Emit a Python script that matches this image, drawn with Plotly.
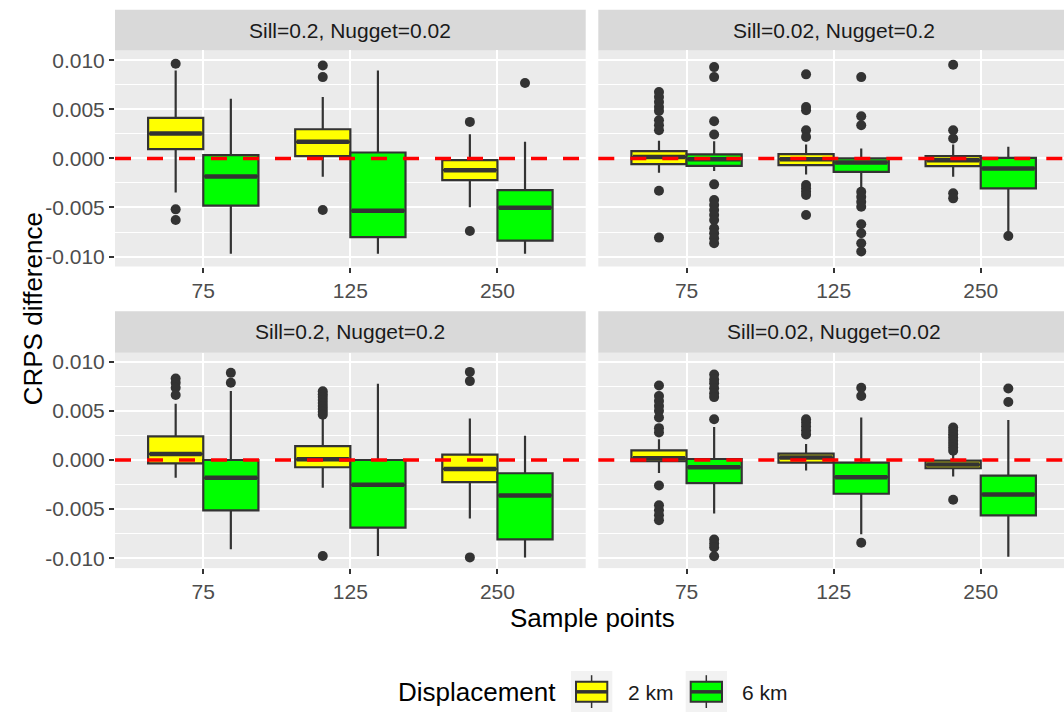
import plotly.graph_objects as go

# ---------------- data ----------------
categories = ["75", "125", "250"]
panel_titles = ["Sill=0.2, Nugget=0.02", "Sill=0.02, Nugget=0.2",
                "Sill=0.2, Nugget=0.2", "Sill=0.02, Nugget=0.02"]
groups = ["2 km", "6 km"]
group_colors = ["#FFFF00", "#00FF00"]

# per panel (A, B, C, D) -> per category (75, 125, 250)
lower_2km = [[-0.00346, -0.00186, -0.00498],
             [-0.00146, -0.00163, -0.00186],
             [-0.00182, -0.00283, -0.00597],
             [-0.00132, -0.00108, -0.00169]]
q1_2km = [[0.00095, 0.00024, -0.00220],
          [-0.00058, -0.00068, -0.00078],
          [-0.00034, -0.00074, -0.00226],
          [-0.00013, -0.00027, -0.00084]]
median_2km = [[0.00254, 0.00170, -0.00119],
              [0.00014, -0.00007, -0.00017],
              [0.00061, 0.00007, -0.00091],
              [0.00017, 0.00024, -0.00047]]
q3_2km = [[0.00414, 0.00298, -0.00017],
          [0.00075, 0.00044, 0.00024],
          [0.00240, 0.00142, 0.00054],
          [0.00098, 0.00064, -0.00007]]
upper_2km = [[0.00898, 0.00627, 0.00247],
             [0.00180, 0.00142, 0.00142],
             [0.00573, 0.00425, 0.00422],
             [0.00212, 0.00162, 0.00080]]
outliers_2km = [
    [[0.00966, -0.00519, -0.00627], [0.00949, 0.00830, -0.00525], [0.00373, -0.00739]],
    [[0.00678, 0.00627, 0.00576, 0.00525, 0.00485, 0.00390, 0.00339, 0.00288, -0.00329, -0.00807],
     [0.00858, 0.00525, 0.00492, 0.00288, 0.00220, -0.00271, -0.00305, -0.00340, -0.00373, -0.00576],
     [0.00956, 0.00288, 0.00203, -0.00356, -0.00407]],
    [[0.00830, 0.00786, 0.00735, 0.00661],
     [0.00700, 0.00670, 0.00640, 0.00610, 0.00580, 0.00550, 0.00520, 0.00490, 0.00460, -0.00978],
     [0.00897, 0.00803, -0.00992]],
    [[0.00759, 0.00651, 0.00600, 0.00550, 0.00500, 0.00432, 0.00324, 0.00280,
      -0.00260, -0.00462, -0.00513, -0.00563, -0.00614],
     [0.00415, 0.00380, 0.00340, 0.00300, 0.00260],
     [0.00330, 0.00297, 0.00263, 0.00230, 0.00196, 0.00162, 0.00128, 0.00094, -0.00405]],
]

lower_6km = [[-0.00973, -0.00973, -0.00973],
             [-0.00129, -0.00305, -0.00760],
             [-0.00910, -0.00978, -0.00992],
             [-0.00546, -0.00755, -0.00985]]
q1_6km = [[-0.00481, -0.00803, -0.00837],
          [-0.00075, -0.00136, -0.00305],
          [-0.00513, -0.00688, -0.00809],
          [-0.00236, -0.00344, -0.00563]]
median_6km = [[-0.00183, -0.00532, -0.00502],
              [-0.00007, -0.00041, -0.00102],
              [-0.00182, -0.00253, -0.00361],
              [-0.00074, -0.00175, -0.00351]]
q3_6km = [[0.00034, 0.00061, -0.00322],
          [0.00041, 0.00000, 0.00007],
          [0.00000, 0.00000, -0.00135],
          [0.00010, -0.00027, -0.00159]]
upper_6km = [[0.00610, 0.00898, 0.00170],
             [0.00176, 0.00102, 0.00119],
             [0.00702, 0.00776, 0.00246],
             [0.00337, 0.00432, 0.00408]]
outliers_6km = [
    [[], [], [0.00770]],
    [[0.00932, 0.00830, 0.00380, 0.00244, -0.00264, -0.00424, -0.00475, -0.00525, -0.00576,
      -0.00627, -0.00712, -0.00763, -0.00814, -0.00864],
     [0.00830, 0.00430, 0.00339, -0.00339, -0.00390, -0.00441, -0.00492, -0.00671, -0.00763,
      -0.00864, -0.00949],
     [-0.00790]],
    [[0.00887, 0.00786], [], []],
    [[0.00870, 0.00820, 0.00780, 0.00730, 0.00680, 0.00640, 0.00415, -0.00810, -0.00850,
      -0.00890, -0.00980],
     [0.00735, 0.00651, -0.00843],
     [0.00728, 0.00590]],
]

ytick_vals = [-0.01, -0.005, 0.0, 0.005, 0.01]
ytick_text = ["-0.010", "-0.005", "0.000", "0.005", "0.010"]
yminor_vals = [-0.0075, -0.0025, 0.0025, 0.0075]

# ---------------- layout helpers ----------------
W, H = 1064, 713
def PX(x): return x / W
def PY(y): return 1 - y / H

FONT = "Liberation Sans, Arial, sans-serif"
DARK = "#333333"
BOXW = 0.375
offsets = [-BOXW / 2, BOXW / 2]

stats = {
    0: (lower_2km, q1_2km, median_2km, q3_2km, upper_2km, outliers_2km),
    1: (lower_6km, q1_6km, median_6km, q3_6km, upper_6km, outliers_6km),
}

fig = go.Figure()

axis_ids = ["", "2", "3", "4"]
for p in range(4):
    xa = "x" + axis_ids[p]
    ya = "y" + axis_ids[p]
    for g in range(2):
        lo, q1, md, q3, up, outl = stats[g]
        pos = [i + 1 + offsets[g] for i in range(len(categories))]
        fig.add_trace(go.Box(
            x=pos, q1=q1[p], median=md[p], q3=q3[p],
            lowerfence=lo[p], upperfence=up[p],
            width=BOXW, whiskerwidth=0, boxpoints=False,
            fillcolor=group_colors[g], line=dict(color=DARK, width=2.2),
            xaxis=xa, yaxis=ya, showlegend=False, hoverinfo="skip"))
        # thicker median line (as in ggplot)
        mx, my = [], []
        for i in range(len(categories)):
            mx += [pos[i] - BOXW / 2 + 0.01, pos[i] + BOXW / 2 - 0.01, None]
            my += [md[p][i], md[p][i], None]
        fig.add_trace(go.Scatter(x=mx, y=my, mode="lines",
                                 line=dict(color=DARK, width=4.5),
                                 xaxis=xa, yaxis=ya, showlegend=False, hoverinfo="skip"))
        ox, oy = [], []
        for i in range(len(categories)):
            ox += [pos[i]] * len(outl[p][i])
            oy += outl[p][i]
        fig.add_trace(go.Scatter(x=ox, y=oy, mode="markers",
                                 marker=dict(color=DARK, size=10),
                                 xaxis=xa, yaxis=ya, showlegend=False, hoverinfo="skip"))

# axes
left_dom = [PX(115), PX(585.7)]
right_dom = [PX(598.3), 1.0]
top_dom = [PY(265), PY(47.7)]
bot_dom = [PY(568.3), PY(351.7)]
right_max = 3.6 - (598.3 + 470.7 - W) / (470.7 / 3.2)

xcommon = dict(tickvals=[1, 2, 3], ticktext=categories, showgrid=True, gridcolor="white",
               gridwidth=2, zeroline=False, ticks="outside", ticklen=5, tickwidth=1.5,
               tickcolor=DARK, tickfont=dict(size=21, color="#4D4D4D", family=FONT),
               showline=False, fixedrange=True)
ycommon = dict(tickvals=ytick_vals, ticktext=ytick_text, showgrid=True, gridcolor="white",
               gridwidth=2, zeroline=False, tickwidth=1.5, tickcolor=DARK,
               tickfont=dict(size=21, color="#4D4D4D", family=FONT), showline=False,
               minor=dict(tickvals=yminor_vals, showgrid=True, gridcolor="white", gridwidth=1,
                          ticks=""),
               fixedrange=True)

fig.update_layout(
    xaxis=dict(xcommon, domain=left_dom, range=[0.4, 3.6], anchor="y"),
    xaxis2=dict(xcommon, domain=right_dom, range=[0.4, right_max], anchor="y2"),
    xaxis3=dict(xcommon, domain=left_dom, range=[0.4, 3.6], anchor="y3"),
    xaxis4=dict(xcommon, domain=right_dom, range=[0.4, right_max], anchor="y4"),
    yaxis=dict(ycommon, domain=top_dom, range=[-0.01102, 0.01102], anchor="x",
               ticks="outside", ticklen=5),
    yaxis2=dict(ycommon, domain=top_dom, range=[-0.01102, 0.01102], anchor="x2",
                ticks="", showticklabels=False),
    yaxis3=dict(ycommon, domain=bot_dom, range=[-0.01101, 0.01092], anchor="x3",
                ticks="outside", ticklen=5),
    yaxis4=dict(ycommon, domain=bot_dom, range=[-0.01101, 0.01092], anchor="x4",
                ticks="", showticklabels=False),
)

shapes = []
annotations = []
# strips
strip_rows = [(6.7, 47.7), (310, 351.7)]
strip_cols = [(115, 585.7), (598.3, 1069)]
for p in range(4):
    r, c = p // 2, p % 2
    y0, y1 = strip_rows[r]
    x0, x1 = strip_cols[c]
    shapes.append(dict(type="rect", xref="paper", yref="paper", x0=PX(x0), x1=min(PX(x1), 1.0),
                       y0=PY(y1), y1=PY(y0), fillcolor="#D9D9D9", line=dict(width=0),
                       layer="below"))
    annotations.append(dict(text=panel_titles[p], xref="paper", yref="paper",
                            x=PX((x0 + x1) / 2), y=PY((y0 + y1) / 2), xanchor="center",
                            yanchor="middle", showarrow=False,
                            font=dict(size=21, color="#1A1A1A", family=FONT)))
    # red dashed zero reference line
    xa = "x" + axis_ids[p]
    ya = "y" + axis_ids[p]
    shapes.append(dict(type="line", xref=xa + " domain", yref=ya, x0=0, x1=1, y0=0, y1=0,
                       line=dict(color="#FF0000", width=3.5, dash="16px,16px"), layer="above"))

# axis titles
annotations.append(dict(text="CRPS difference", xref="paper", yref="paper", x=PX(33),
                        y=PY((47.7 + 568.3) / 2), textangle=-90, showarrow=False,
                        xanchor="center", yanchor="middle",
                        font=dict(size=26, color="black", family=FONT)))
annotations.append(dict(text="Sample points", xref="paper", yref="paper", x=PX(592),
                        y=PY(618), showarrow=False, xanchor="center", yanchor="middle",
                        font=dict(size=26, color="black", family=FONT)))

# legend (manual, ggplot style)
annotations.append(dict(text="Displacement", xref="paper", yref="paper", x=PX(396),
                        y=PY(693), showarrow=False, xanchor="left", yanchor="middle",
                        font=dict(size=26, color="black", family=FONT)))
key_left = [571, 685.7]
label_left = [626, 740]
for g in range(2):
    kx = key_left[g]
    shapes.append(dict(type="rect", xref="paper", yref="paper", x0=PX(kx), x1=PX(kx + 41.3),
                       y0=PY(712.9), y1=PY(671.7), fillcolor="#F2F2F2", line=dict(width=0)))
    cx = kx + 20.6
    shapes.append(dict(type="line", xref="paper", yref="paper", x0=PX(cx), x1=PX(cx),
                       y0=PY(676), y1=PY(709), line=dict(color=DARK, width=1.5)))
    shapes.append(dict(type="rect", xref="paper", yref="paper", x0=PX(kx + 5), x1=PX(kx + 36.3),
                       y0=PY(702.7), y1=PY(682.7), fillcolor=group_colors[g],
                       line=dict(color=DARK, width=2)))
    shapes.append(dict(type="line", xref="paper", yref="paper", x0=PX(kx + 5), x1=PX(kx + 36.3),
                       y0=PY(692.7), y1=PY(692.7), line=dict(color=DARK, width=3.5)))
    annotations.append(dict(text=groups[g], xref="paper", yref="paper", x=PX(label_left[g]),
                            y=PY(693), showarrow=False, xanchor="left", yanchor="middle",
                            font=dict(size=21, color="#1A1A1A", family=FONT)))

fig.update_layout(
    shapes=shapes, annotations=annotations,
    width=W, height=H, margin=dict(l=0, r=0, t=0, b=0),
    paper_bgcolor="white", plot_bgcolor="#EBEBEB",
    font=dict(family=FONT), showlegend=False,
)

fig.write_html("out.html", include_plotlyjs=True, config={"displayModeBar": False})
